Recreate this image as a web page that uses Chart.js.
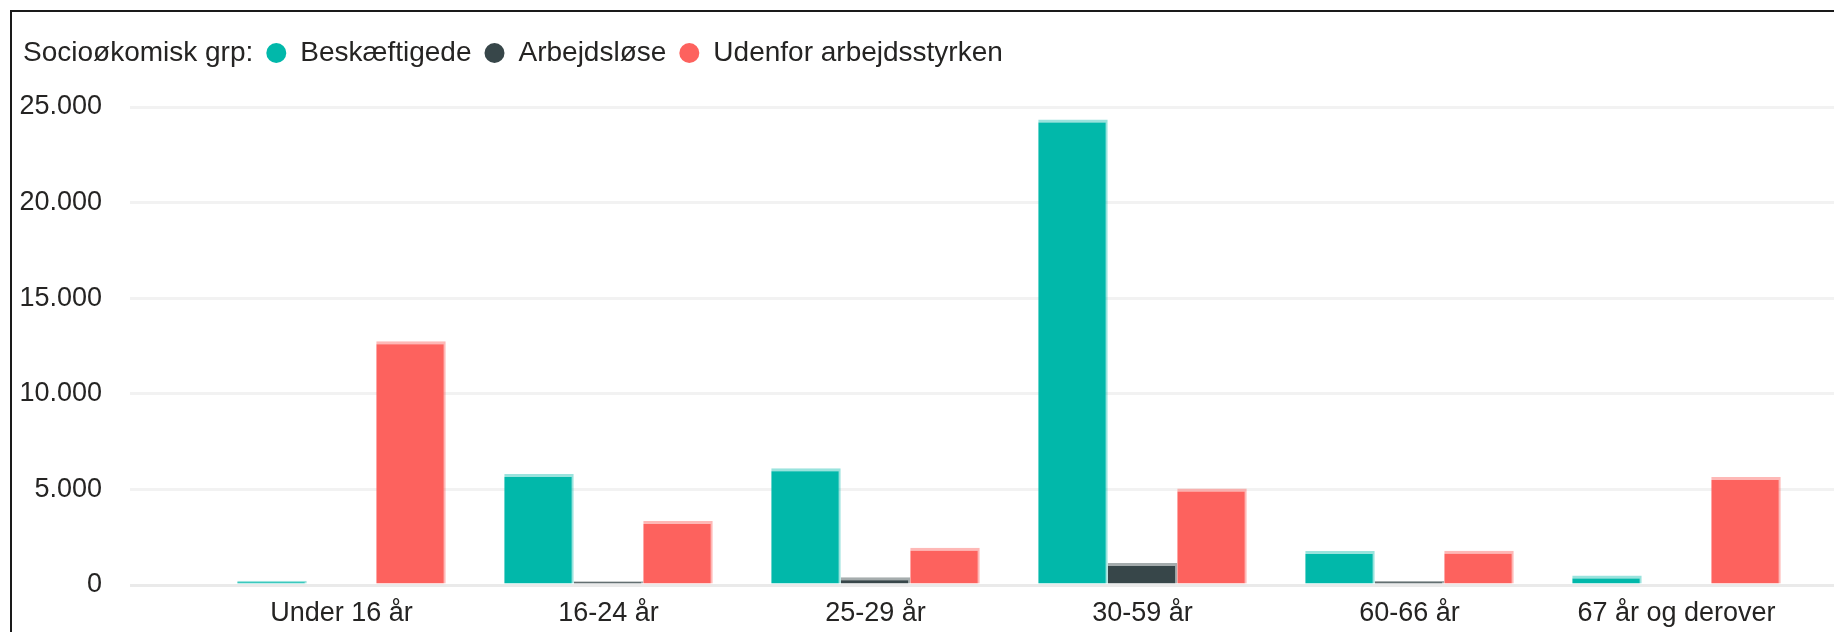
<!DOCTYPE html>
<html>
<head>
<meta charset="utf-8">
<script src="https://cdn.jsdelivr.net/npm/chart.js@4.4.1/dist/chart.umd.min.js"></script>
<style>
  html, body { margin: 0; padding: 0; background: #fff; }
  #wrap { position: relative; width: 1834px; height: 632px; overflow: hidden; }
  #frame { position: absolute; left: 10px; top: 10px; right: -10px; bottom: -10px;
           border-top: 2px solid #1a1a1a; border-left: 2px solid #1a1a1a; }
  #chart_div { position: absolute; left: 0; top: 0; }
</style>
</head>
<body>
<div id="wrap">
  <div id="frame"></div>
  <canvas id="chart_div" width="1834" height="632"></canvas>
</div>
<script>
// aldersgrupper (x-akse)
const kategorier = ['Under 16 år', '16-24 år', '25-29 år', '30-59 år', '60-66 år', '67 år og derover'];

// antal personer pr. socioøkonomisk gruppe
const beskaeftigede = [220, 5800, 6100, 24350, 1780, 500];
const arbejdsloese = [null, 200, 400, 1150, 210, null];
const udenforArbejdsstyrken = [12750, 3350, 1950, 5050, 1790, 5650];

const serieNavne = ['Beskæftigede', 'Arbejdsløse', 'Udenfor arbejdsstyrken'];
const serieFarver = ['#01B8AA', '#374649', '#FD625E'];
const kantFarver = ['rgba(1,184,170,0.4)', 'rgba(55,70,73,0.45)', 'rgba(253,98,94,0.45)'];

const legendTitel = 'Socioøkomisk grp:';
const yTicks = [0, 5000, 10000, 15000, 20000, 25000];

const tekstFarve = '#252423';
const gridFarve = '#f2f2f2';

function formatTal(v) {
  return String(v).replace(/\B(?=(\d{3})+(?!\d))/g, '.');
}

const serier = [beskaeftigede, arbejdsloese, udenforArbejdsstyrken];
const datasets = serier.map((data, i) => ({
  label: serieNavne[i],
  data: data,
  backgroundColor: serieFarver[i],
  borderColor: kantFarver[i],
  borderWidth: { top: 3, right: 2, left: 0, bottom: 0 },
  borderSkipped: 'start',
  categoryPercentage: 0.781,
  barPercentage: 1.0,
  yAxisID: 'y'
}));

// ekstra luft mellem legend og plotomraade
const legendAfstand = {
  id: 'legendAfstand',
  beforeInit(chart) {
    const origFit = chart.legend.fit;
    chart.legend.fit = function fit() {
      origFit.bind(chart.legend)();
      this.height += 30;
    };
  }
};

let ctxBar = document.getElementById('chart_div').getContext('2d');

let barChart = new Chart(ctxBar, {
  type: 'bar',
  data: {
    labels: kategorier,
    datasets: datasets
  },
  plugins: [legendAfstand],
  options: {
    responsive: false,
    animation: false,
    layout: {
      padding: { left: -24, right: 0, top: 26, bottom: 0 }
    },
    plugins: {
      tooltip: { enabled: false },
      legend: {
        display: true,
        position: 'top',
        align: 'start',
        labels: {
          font: { family: 'Liberation Sans, Arial, sans-serif', size: 28 },
          color: tekstFarve,
          usePointStyle: true,
          pointStyle: 'circle',
          pointStyleWidth: 20,
          boxHeight: 14,
          padding: 13,
          generateLabels: function(chart) {
            const items = chart.data.datasets.map((ds, i) => ({
              text: ds.label,
              fillStyle: ds.backgroundColor,
              strokeStyle: ds.backgroundColor,
              lineWidth: 0,
              pointStyle: 'circle',
              fontColor: tekstFarve,
              datasetIndex: i
            }));
            // titlen som usynligt foerste element
            items.unshift({
              text: legendTitel,
              fillStyle: 'rgba(0,0,0,0)',
              strokeStyle: 'rgba(0,0,0,0)',
              lineWidth: 0,
              pointStyle: 'circle',
              fontColor: tekstFarve
            });
            return items;
          }
        },
        onClick: () => {}
      }
    },
    scales: {
      x: {
        grid: { display: false },
        border: { display: false },
        ticks: {
          padding: 4,
          maxRotation: 0,
          autoSkip: false,
          color: tekstFarve,
          font: { family: 'Liberation Sans, Arial, sans-serif', size: 27 }
        },
        afterFit(scale) { scale.height = 47; }
      },
      y: {
        position: 'left',
        min: 0,
        max: 25000,
        afterBuildTicks(scale) { scale.ticks = yTicks.map(v => ({ value: v })); },
        border: { display: false },
        grid: {
          color: ctx => (ctx.tick && ctx.tick.value === 0 ? '#eaeaea' : gridFarve),
          lineWidth: 3,
          drawTicks: true,
          tickLength: 78
        },
        ticks: {
          padding: 28,
          color: tekstFarve,
          font: { family: 'Liberation Sans, Arial, sans-serif', size: 27 },
          callback: v => formatTal(v)
        },
        afterFit(scale) { scale.width = 232; }
      },
      y2: {
        position: 'right',
        min: 0,
        max: 25000,
        afterBuildTicks(scale) { scale.ticks = yTicks.map(v => ({ value: v })); },
        border: { display: false },
        grid: {
          color: ctx => (ctx.tick && ctx.tick.value === 0 ? '#eaeaea' : gridFarve),
          lineWidth: 3,
          drawOnChartArea: false,
          drawTicks: true,
          tickLength: 24
        },
        ticks: { display: false },
        afterFit(scale) { scale.width = 24; }
      }
    }
  }
});
</script>
</body>
</html>
